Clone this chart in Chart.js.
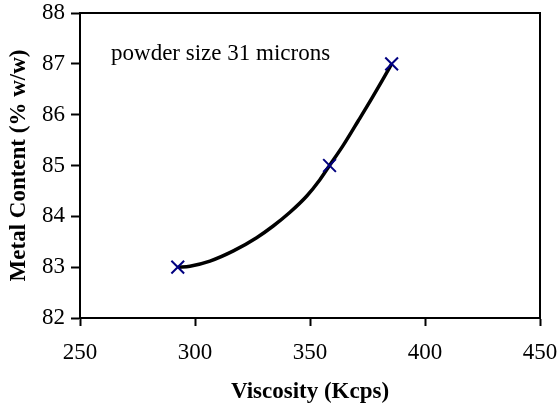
<!DOCTYPE html>
<html>
<head>
<meta charset="utf-8">
<script src="https://cdn.jsdelivr.net/npm/chart.js@4/dist/chart.umd.min.js"></script>
<style>
  html, body { margin: 0; padding: 0; background: #ffffff; }
  #wrap { width: 557px; height: 404px; position: relative; }
</style>
</head>
<body>
<div id="wrap"><canvas id="c" width="557" height="404"></canvas></div>
<script>
// Measured data points (Viscosity in Kcps, Metal Content in % w/w)
const markerX = [292.5, 358.5, 385.5];
const markerY = [83, 85, 87];

// Points
const curveX = [292.5, 297.8, 306.5, 316.7, 326.8, 334.0, 341.3, 348.6, 354.3, 358.5, 364.5, 371.0, 377.0, 381.5, 385.5];
const curveY = [83.0, 83.02, 83.12, 83.32, 83.58, 83.81, 84.08, 84.40, 84.72, 85.0, 85.40, 85.88, 86.33, 86.68, 87.0];

// Axis ranges / ticks
const xTicks = [250, 300, 350, 400, 450];
const yTicks = [82, 83, 84, 85, 86, 87, 88];

const xTitle = 'Viscosity (Kcps)';
const yTitle = 'Metal Content (% w/w)';
const noteText = 'powder size 31 microns';

const FONT = '"Liberation Serif", "Times New Roman", Times, serif';
Chart.defaults.font.family = FONT;
Chart.defaults.color = '#000000';

const curveData = curveX.map((x, i) => ({ x: x, y: curveY[i] }));
const markerData = markerX.map((x, i) => ({ x: x, y: markerY[i] }));

const framePlugin = {
  id: 'frame',
  afterDraw(chart) {
    const { ctx, chartArea } = chart;
    ctx.save();
    ctx.strokeStyle = '#000000';
    ctx.lineWidth = 2;
    ctx.strokeRect(chartArea.left, chartArea.top, chartArea.right - chartArea.left, chartArea.bottom - chartArea.top);
    ctx.restore();
  }
};

const notePlugin = {
  id: 'note',
  afterDatasetsDraw(chart) {
    const { ctx, scales } = chart;
    ctx.save();
    ctx.fillStyle = '#000000';
    ctx.font = '23px ' + FONT;
    ctx.textAlign = 'left';
    ctx.textBaseline = 'alphabetic';
    const x = scales.x.getPixelForValue(263.5);
    const y = scales.y.getPixelForValue(87.07);
    ctx.fillText(noteText, x, y);
    ctx.restore();
  }
};

new Chart(document.getElementById('c'), {
  type: 'scatter',
  data: {
    datasets: [
      {
        label: 'curve',
        data: curveData,
        showLine: true,
        borderColor: '#000000',
        borderWidth: 3.5,
        pointRadius: 0,
        cubicInterpolationMode: 'monotone',
        fill: false,
        order: 2
      },
      {
        label: 'points',
        data: markerData,
        showLine: false,
        pointStyle: 'crossRot',
        pointRadius: 9,
        pointBorderWidth: 2,
        borderColor: '#000080',
        backgroundColor: '#000080',
        order: 1
      }
    ]
  },
  options: {
    responsive: false,
    animation: false,
    devicePixelRatio: 1,
    layout: { padding: { top: 13, right: 17, bottom: 0, left: 0 } },
    plugins: {
      legend: { display: false },
      tooltip: { enabled: false }
    },
    scales: {
      x: {
        type: 'linear',
        min: xTicks[0],
        max: xTicks[xTicks.length - 1],
        afterBuildTicks(scale) { scale.ticks = xTicks.map(v => ({ value: v })); },
        afterFit(scale) {
          scale.height = 86;
          scale.paddingLeft = 0;
          scale.paddingRight = 0;
        },
        grid: {
          drawOnChartArea: false,
          drawTicks: true,
          tickLength: 8,
          tickWidth: 2,
          color: '#000000'
        },
        border: { display: true, color: '#000000', width: 2 },
        ticks: {
          color: '#000000',
          font: { family: FONT, size: 23 },
          padding: 13,
          maxRotation: 0
        },
        title: {
          display: true,
          text: xTitle,
          color: '#000000',
          font: { family: FONT, size: 23, weight: 'bold', lineHeight: 1.0 },
          padding: { top: 0, bottom: 0 }
        }
      },
      y: {
        type: 'linear',
        min: yTicks[0],
        max: yTicks[yTicks.length - 1],
        afterBuildTicks(scale) { scale.ticks = yTicks.map(v => ({ value: v })); },
        afterFit(scale) {
          scale.width = 80;
          scale.paddingTop = 0;
          scale.paddingBottom = 0;
        },
        grid: {
          drawOnChartArea: false,
          drawTicks: true,
          tickLength: 9,
          tickWidth: 2,
          color: '#000000'
        },
        border: { display: true, color: '#000000', width: 2 },
        ticks: {
          color: '#000000',
          font: { family: FONT, size: 23 },
          padding: 6
        },
        title: {
          display: true,
          text: yTitle,
          color: '#000000',
          font: { family: FONT, size: 23, weight: 'bold' },
          padding: { top: 5, bottom: 0 }
        }
      }
    }
  },
  plugins: [framePlugin, notePlugin]
});
</script>
</body>
</html>
